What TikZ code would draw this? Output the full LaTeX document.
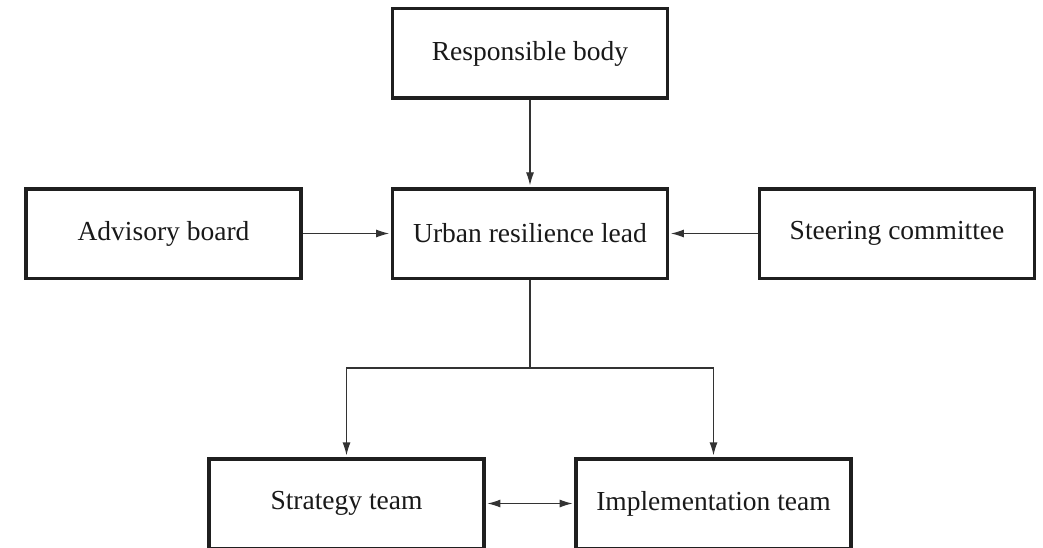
\documentclass[tikz,border=0pt]{standalone}
\usepackage{fontspec}
\setmainfont{Liberation Serif}
\usetikzlibrary{arrows.meta}
\begin{document}
\begin{tikzpicture}[x=1pt,y=-1pt,
  box/.style={draw=black!88, line width=3.5pt, minimum width=275pt, minimum height=89.5pt, inner sep=0pt, font=\fontsize{27.5}{32}\selectfont, text=black!90},
  conn/.style={draw=black!80, line width=1.2pt},
  arr/.style={conn, -{Latex[length=13pt,width=8pt]}, shorten >=1.6pt},
  darr/.style={conn, {Latex[length=13pt,width=8pt]}-{Latex[length=13pt,width=8pt]}, shorten >=1.6pt, shorten <=1.6pt}]
\useasboundingbox (0,0) rectangle (1043,548);
\clip (0,0) rectangle (1043,548);
\node[box] (rb) at (530,53.5) {Responsible body};
\node[box] (lead) at (530,233.5) {Urban resilience lead};
\node[box] (adv) at (163.5,233.5) {Advisory board};
\node[box] (steer) at (897,233.5) {Steering committee};
\node[box] (strat) at (346.5,503.5) {Strategy team};
\node[box] (impl) at (713.5,503.5) {Implementation team};
\coordinate (j) at (530,368);
\draw[arr] (rb.south) -- (lead.north);
\draw[arr] (adv.east) -- (lead.west);
\draw[arr] (steer.west) -- (lead.east);
\draw[conn] (lead.south) -- (j);
\draw[arr] (j) -| (strat.north);
\draw[arr] (j) -| (impl.north);
\draw[darr] (strat.east) -- (impl.west);
\end{tikzpicture}
\end{document}
